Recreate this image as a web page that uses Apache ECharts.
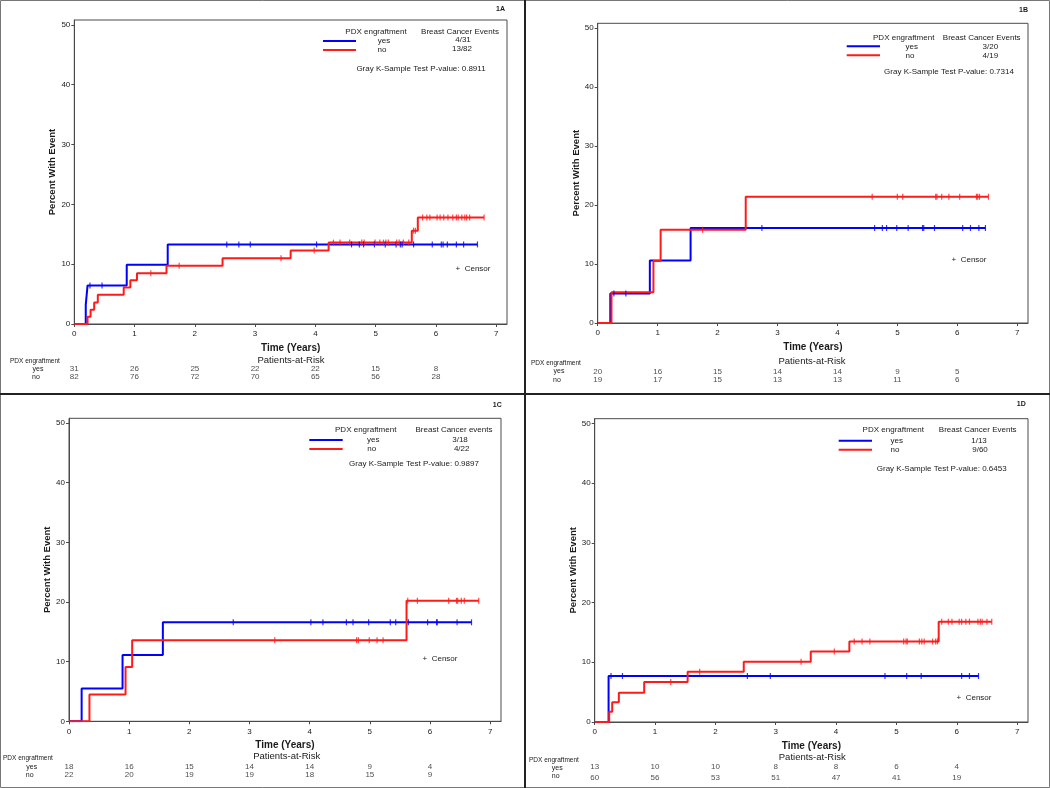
<!DOCTYPE html>
<html><head><meta charset="utf-8">
<script src="https://cdn.jsdelivr.net/npm/echarts@6/dist/echarts.min.js"></script>
<style>html,body{margin:0;padding:0;background:#fff}#c{width:1050px;height:788px}</style>
</head><body><div id="c"></div>
<script>
// ---------- DATA ----------
const xTicks = [0, 1, 2, 3, 4, 5, 6, 7];
const yTicks = [0, 10, 20, 30, 40, 50];
const riskTimes = [0, 1, 2, 3, 4, 5, 6];
const panelIds = ['1A', '1B', '1C', '1D'];
const eventsHeader = ['Breast Cancer Events', 'Breast Cancer Events', 'Breast Cancer events', 'Breast Cancer Events'];
const eventsYes = ['4/31', '3/20', '3/18', '1/13'];
const eventsNo = ['13/82', '4/19', '4/22', '9/60'];
const pValues = ['0.8911', '0.7314', '0.9897', '0.6453'];

// 1A
const a_yesCurve = [[0,0],[0.19,3.2],[0.22,6.45],[0.87,9.9],[1.55,13.3],[6.69,13.3]];
const a_yesCensor = [0.26,0.46,2.53,2.73,2.92,4.02,4.6,4.73,4.8,4.98,5.16,5.34,5.41,5.44,5.63,5.94,6.09,6.12,6.19,6.34,6.46,6.69];
const a_noCurve = [[0,0],[0.22,1.2],[0.27,2.4],[0.33,3.6],[0.39,4.9],[0.82,6.1],[0.93,7.3],[1.04,8.5],[1.53,9.75],[2.46,11.0],[3.59,12.3],[4.22,13.6],[5.6,15.6],[5.7,17.8],[6.8,17.8]];
const a_noCensor = [1.27,1.74,3.43,3.98,4.3,4.41,4.57,4.77,4.81,4.99,5.07,5.13,5.17,5.21,5.35,5.39,5.46,5.55,5.63,5.66,5.78,5.85,5.9,6.02,6.07,6.13,6.2,6.28,6.34,6.37,6.43,6.48,6.51,6.56,6.8];
const a_riskYes = [31, 26, 25, 22, 22, 15, 8];
const a_riskNo = [82, 76, 72, 70, 65, 56, 28];

// 1B
const b_yesCurve = [[0,0],[0.21,5.0],[0.87,10.6],[1.55,16.1],[6.47,16.1]];
const b_yesCensor = [0.27,0.47,2.74,4.62,4.75,4.82,4.99,5.18,5.42,5.44,5.62,6.09,6.22,6.36,6.47];
const b_noCurve = [[0,0],[0.23,5.2],[0.93,10.5],[1.05,15.8],[2.47,21.4],[6.52,21.4]];
const b_noCensor = [1.75,4.58,5.0,5.09,5.64,5.66,5.74,5.86,6.04,6.32,6.34,6.37,6.52];
const b_riskYes = [20, 16, 15, 14, 14, 9, 5];
const b_riskNo = [19, 17, 15, 13, 13, 11, 6];

// 1C
const c_yesCurve = [[0,0],[0.21,5.5],[0.89,11.1],[1.56,16.6],[6.69,16.6]];
const c_yesCensor = [2.73,4.02,4.22,4.61,4.72,4.98,5.34,5.43,5.64,5.96,6.11,6.12,6.45,6.69];
const c_noCurve = [[0,0],[0.34,4.5],[0.94,9.1],[1.05,13.6],[5.61,20.2],[6.81,20.2]];
const c_noCensor = [3.42,4.78,4.81,4.99,5.12,5.22,5.63,5.79,6.31,6.44,6.46,6.52,6.57,6.81];
const c_riskYes = [18, 16, 15, 14, 14, 9, 4];
const c_riskNo = [22, 20, 19, 19, 18, 15, 9];

// 1D
const d_yesCurve = [[0,0],[0.23,7.7],[6.36,7.7]];
const d_yesCensor = [0.27,0.46,2.53,2.91,4.81,5.17,5.41,6.08,6.21,6.36];
const d_noCurve = [[0,0],[0.24,1.7],[0.29,3.3],[0.40,4.9],[0.82,6.7],[1.54,8.4],[2.47,10.1],[3.58,11.8],[4.22,13.5],[5.70,16.8],[6.58,16.8]];
const d_noCensor = [1.26,1.74,3.42,3.97,4.30,4.43,4.56,5.12,5.16,5.18,5.38,5.42,5.46,5.6,5.65,5.68,5.75,5.86,5.92,6.04,6.08,6.15,6.21,6.35,6.39,6.42,6.5,6.58];
const d_riskYes = [13, 10, 10, 8, 8, 6, 4];
const d_riskNo = [60, 56, 53, 51, 47, 41, 19];

// ---------- LAYOUT ----------
const FONT = '"Liberation Sans", Arial, sans-serif';
const X_MAX = 7.18, Y_MAX = 50.8;
const BLUE = '#0000ff', RED = '#ff1a1a', INK = '#1a1a1a', AX = '#4a4a4a';
const L = [
  {grid:{left:74.3, top:20, width:432.7, height:304}, ox:0, oy:0,
   tag:[505,9.5], hdr:[376,32,460,32], ln:[323,356,41,50], yn:[384,41,382,50], ev:[463,40,462,49],
   gray:[421,69], cens:[473,269], par:[291,360], rk:[10,361,38,369,36,377], rows:[369,377]},
  {grid:{left:597.7, top:23.3, width:430.3, height:299.7}, ox:525, oy:0,
   tag:[1028,10], hdr:[903.7,37.7,981.7,37.7], ln:[846.7,880,46.3,55.3], yn:[911.7,46.3,910,55.3], ev:[990.3,46.3,990.3,55.3],
   gray:[949,71.3], cens:[969,260], par:[812,361.7], rk:[531,363.7,559,371.3,557,379.7], rows:[371.3,379.7]},
  {grid:{left:69, top:418.3, width:432, height:303}, ox:0, oy:395,
   tag:[501.7,404.7], hdr:[365.7,429.7,454,429.7], ln:[309.3,342.7,440,449], yn:[373.3,439.3,371.7,448.3], ev:[460,439.3,461.7,448.3],
   gray:[414,463.7], cens:[440,659], par:[286.7,756], rk:[3,758.3,31.7,766.7,29.7,774.7], rows:[766.7,774.7]},
  {grid:{left:594.7, top:418.7, width:433.3, height:303.3}, ox:525, oy:395,
   tag:[1025.7,404.3], hdr:[893.3,429.7,977.7,429.7], ln:[838.7,872,440.7,449.7], yn:[896.7,440.7,895,449.7], ev:[979,440.3,980,449.3],
   gray:[941.7,468.3], cens:[974,697.3], par:[812.3,757.3], rk:[529,760,557.3,768,555.7,776], rows:[767,777.3]}
];

const curves = [
  {yes:a_yesCurve, yesC:a_yesCensor, no:a_noCurve, noC:a_noCensor, rY:a_riskYes, rN:a_riskNo},
  {yes:b_yesCurve, yesC:b_yesCensor, no:b_noCurve, noC:b_noCensor, rY:b_riskYes, rN:b_riskNo},
  {yes:c_yesCurve, yesC:c_yesCensor, no:c_noCurve, noC:c_noCensor, rY:c_riskYes, rN:c_riskNo},
  {yes:d_yesCurve, yesC:d_yesCensor, no:d_noCurve, noC:d_noCensor, rY:d_riskYes, rN:d_riskNo}
];

function stepAt(curve, t) {
  let v = 0;
  for (const p of curve) { if (p[0] <= t + 1e-9) v = p[1]; }
  return v;
}

function txt(x, y, s, size, opt) {
  opt = opt || {};
  return {type:'text', silent:true, z:100, style:{
    text:s, x:x, y:y, fill:opt.fill || INK,
    font:(opt.bold ? 'bold ' : '') + size + 'px ' + FONT,
    textAlign:opt.align || 'center', textVerticalAlign:'middle',
    align:opt.align || 'center', verticalAlign:'middle'}};
}

const grids = [], xAxes = [], yAxes = [], series = [], graphics = [];

L.forEach((lay, i) => {
  const g = lay.grid;
  grids.push({left:g.left, top:g.top, width:g.width, height:g.height, show:true,
              borderColor:AX, borderWidth:1, backgroundColor:'rgba(0,0,0,0)', containLabel:false});
  xAxes.push({gridIndex:i, type:'value', min:0, max:X_MAX, interval:1,
    axisLine:{show:true, onZero:false, lineStyle:{color:AX, width:1}},
    axisTick:{show:true, length:3, inside:false, customValues:xTicks, lineStyle:{color:AX}},
    axisLabel:{customValues:xTicks, fontSize:8, color:INK, margin:6, fontFamily:FONT,
               formatter:v => (Number.isInteger(v) ? String(v) : '')},
    splitLine:{show:false},
    name:'Time (Years)', nameLocation:'middle', nameGap:19,
    nameTextStyle:{fontWeight:'bold', fontSize:10, color:INK, fontFamily:FONT}});
  yAxes.push({gridIndex:i, type:'value', min:0, max:Y_MAX, interval:10,
    axisLine:{show:true, onZero:false, lineStyle:{color:AX, width:1}},
    axisTick:{show:true, length:3, inside:false, customValues:yTicks, lineStyle:{color:AX}},
    axisLabel:{customValues:yTicks, fontSize:8, color:INK, margin:4, fontFamily:FONT,
               formatter:v => (v % 10 === 0 ? String(v) : '')},
    splitLine:{show:false},
    name:'Percent With Event', nameLocation:'middle', nameGap:16, nameRotate:90,
    nameTextStyle:{fontWeight:'bold', fontSize:9.5, color:INK, fontFamily:FONT}});
});

// risk-table grids (hidden axes, same time scale)
L.forEach((lay, i) => {
  const g = lay.grid;
  grids.push({left:g.left, top:lay.rows[0], width:g.width, height:lay.rows[1] - lay.rows[0], show:false});
  xAxes.push({gridIndex:4 + i, type:'value', min:0, max:X_MAX, show:false});
  yAxes.push({gridIndex:4 + i, type:'value', min:0, max:1, show:false});
});

curves.forEach((c, i) => {
  series.push({type:'line', xAxisIndex:i, yAxisIndex:i, step:'end', data:c.yes, showSymbol:false,
               lineStyle:{color:BLUE, width:2}, itemStyle:{color:BLUE}, z:3, silent:true});
  series.push({type:'line', xAxisIndex:i, yAxisIndex:i, step:'end', data:c.no, showSymbol:false,
               lineStyle:{color:RED, width:2}, itemStyle:{color:RED}, z:4, silent:true});
  series.push({type:'scatter', xAxisIndex:i, yAxisIndex:i, data:c.yesC.map(t => [t, stepAt(c.yes, t)]),
               symbol:'rect', symbolSize:[1.2, 6], itemStyle:{color:BLUE}, z:5, silent:true});
  series.push({type:'scatter', xAxisIndex:i, yAxisIndex:i, data:c.noC.map(t => [t, stepAt(c.no, t)]),
               symbol:'rect', symbolSize:[1.2, 6], itemStyle:{color:RED}, z:6, silent:true});
  const riskData = riskTimes.map((t, k) => [t, 1, c.rY[k]]).concat(riskTimes.map((t, k) => [t, 0, c.rN[k]]));
  series.push({type:'scatter', xAxisIndex:4 + i, yAxisIndex:4 + i, data:riskData, symbol:'circle', symbolSize:1,
               itemStyle:{color:'rgba(0,0,0,0)'}, silent:true,
               label:{show:true, position:'inside', formatter:p => String(p.value[2]), fontSize:8, color:INK, fontFamily:FONT}});
});

L.forEach((lay, i) => {
  graphics.push(txt(lay.tag[0], lay.tag[1], panelIds[i], 7, {bold:true, align:'right'}));
  graphics.push(txt(lay.hdr[0], lay.hdr[1], 'PDX engraftment', 8));
  graphics.push(txt(lay.hdr[2], lay.hdr[3], eventsHeader[i], 8));
  graphics.push({type:'line', silent:true, z:100, shape:{x1:lay.ln[0], y1:lay.ln[2], x2:lay.ln[1], y2:lay.ln[2]}, style:{stroke:BLUE, lineWidth:2}});
  graphics.push({type:'line', silent:true, z:100, shape:{x1:lay.ln[0], y1:lay.ln[3], x2:lay.ln[1], y2:lay.ln[3]}, style:{stroke:RED, lineWidth:2}});
  graphics.push(txt(lay.yn[0], lay.yn[1], 'yes', 8));
  graphics.push(txt(lay.yn[2], lay.yn[3], 'no', 8));
  graphics.push(txt(lay.ev[0], lay.ev[1], eventsYes[i], 8));
  graphics.push(txt(lay.ev[2], lay.ev[3], eventsNo[i], 8));
  graphics.push(txt(lay.gray[0], lay.gray[1], 'Gray K-Sample Test P-value: ' + pValues[i], 8));
  graphics.push(txt(lay.cens[0], lay.cens[1], '+  Censor', 8));
  graphics.push(txt(lay.par[0], lay.par[1], 'Patients-at-Risk', 9.5));
  graphics.push(txt(lay.rk[0], lay.rk[1], 'PDX engraftment', 6.5, {align:'left'}));
  graphics.push(txt(lay.rk[2], lay.rk[3], 'yes', 7));
  graphics.push(txt(lay.rk[4], lay.rk[5], 'no', 7));
});

// quadrant frames
graphics.push({type:'rect', silent:true, z:90, shape:{x:0.5, y:0.5, width:1049, height:787}, style:{fill:'none', stroke:'#777', lineWidth:1}});
graphics.push({type:'line', silent:true, z:90, shape:{x1:525, y1:0, x2:525, y2:788}, style:{stroke:'#222', lineWidth:2}});
graphics.push({type:'line', silent:true, z:90, shape:{x1:0, y1:394, x2:1050, y2:394}, style:{stroke:'#222', lineWidth:2}});

const chart = echarts.init(document.getElementById('c'), null, {renderer:'canvas'});
chart.setOption({
  animation:false, backgroundColor:'#ffffff',
  textStyle:{fontFamily:FONT},
  grid:grids, xAxis:xAxes, yAxis:yAxes, series:series, graphic:graphics
});
</script></body></html>
